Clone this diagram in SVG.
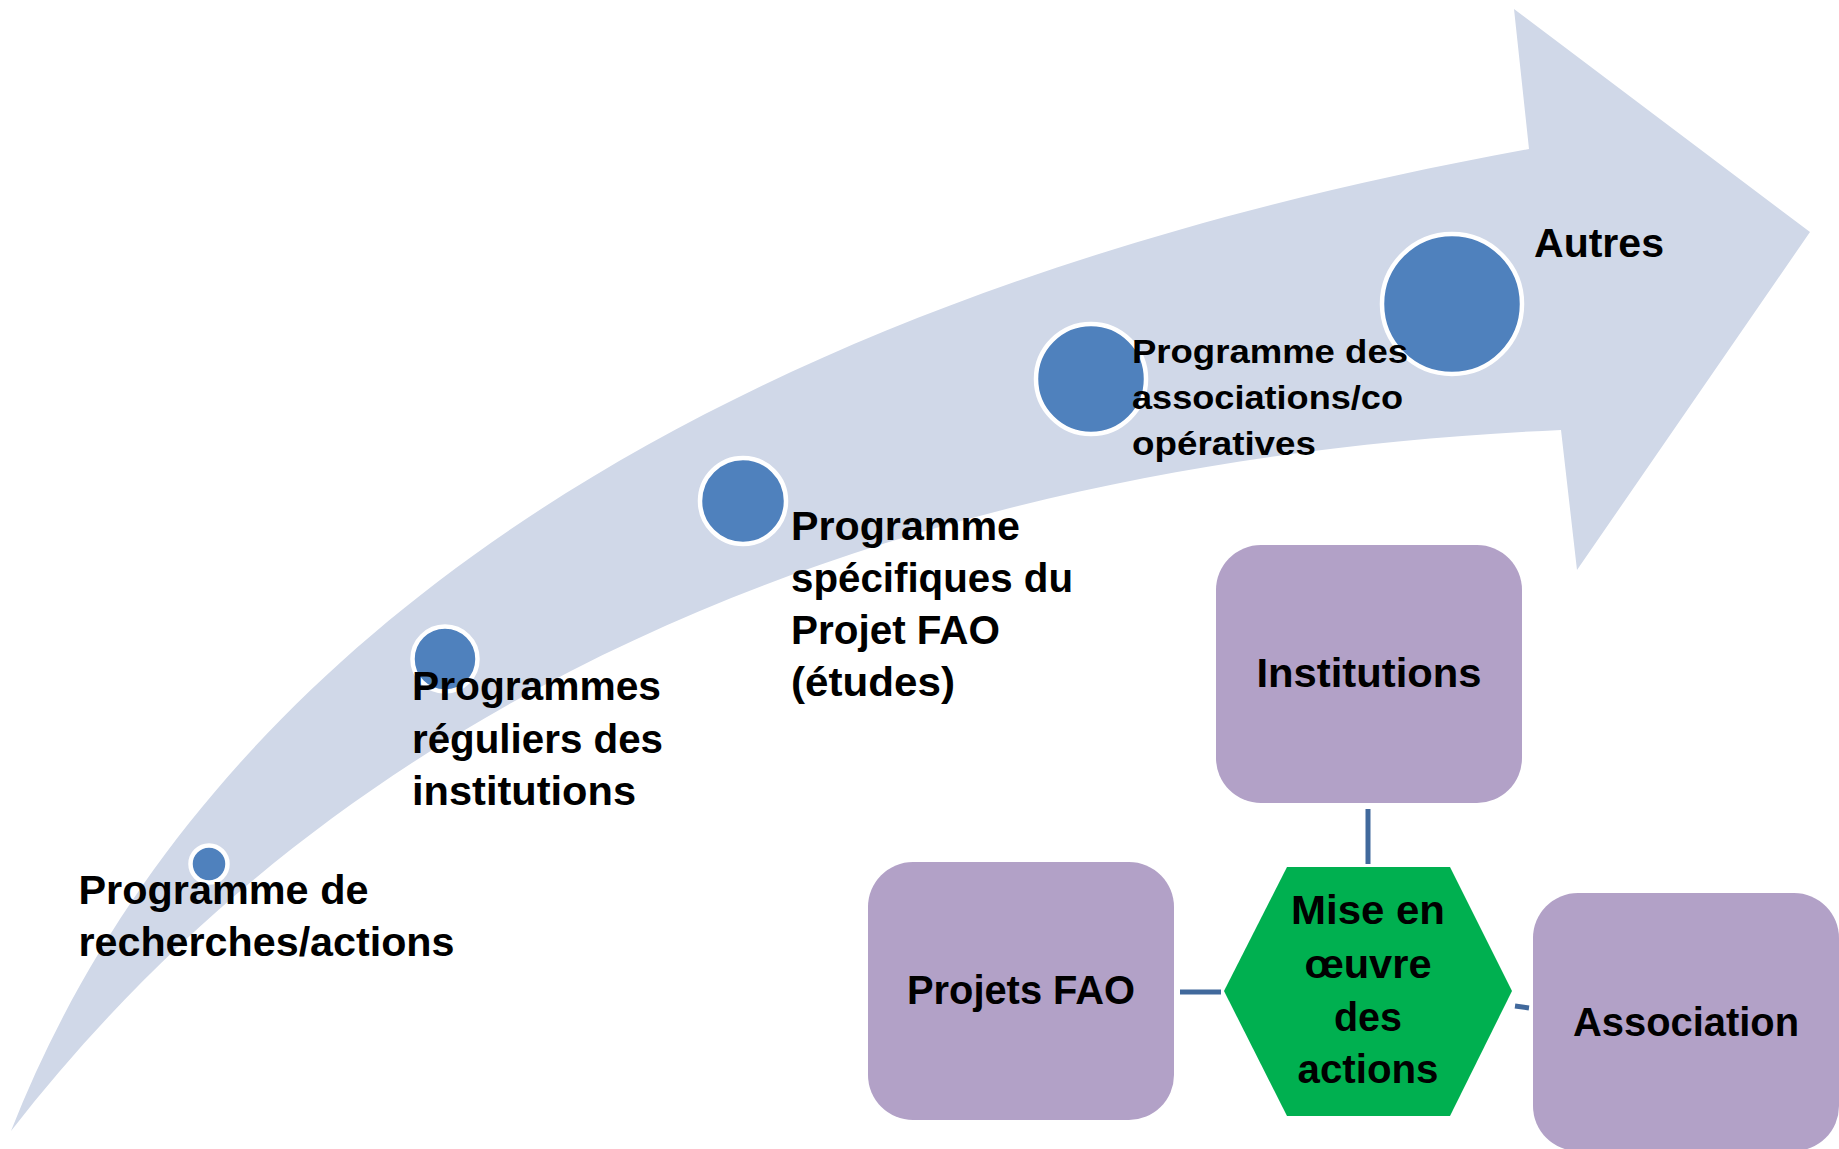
<svg xmlns="http://www.w3.org/2000/svg" width="1839" height="1149" viewBox="0 0 1839 1149">
<style>
.t{font-family:"Liberation Sans",Arial,sans-serif;font-weight:bold;fill:#000;}
.b{font-size:40px;}
.s{font-size:33px;}
.dot{fill:#4F81BD;stroke:#FFFFFF;stroke-width:4.5;}
.box{fill:#B2A1C7;}
.con{stroke:#41699C;stroke-width:5;fill:none;}
</style>
<rect width="1839" height="1149" fill="#FFFFFF"/>
<g id="arrow">
<path d="M11,1131 C200,650 700,300 1529,149 L1514,9 L1810,232 L1577,570 L1561,430 C1000,455 400,630 11,1131 Z" fill="#D0D8E8"/>
</g>
<g id="step1">
<circle class="dot" cx="209" cy="864" r="18.5"/>
<text class="t b" x="78.5" y="904" textLength="290" lengthAdjust="spacingAndGlyphs">Programme de</text>
<text class="t b" x="78.5" y="956" textLength="376" lengthAdjust="spacingAndGlyphs">recherches/actions</text>
</g>
<g id="step2">
<circle class="dot" cx="445" cy="659" r="32.5"/>
<text class="t b" x="412" y="700" textLength="249" lengthAdjust="spacingAndGlyphs">Programmes</text>
<text class="t b" x="412" y="753" textLength="251" lengthAdjust="spacingAndGlyphs">réguliers des</text>
<text class="t b" x="412" y="805" textLength="224" lengthAdjust="spacingAndGlyphs">institutions</text>
</g>
<g id="step3">
<circle class="dot" cx="743" cy="501" r="43"/>
<text class="t b" x="791" y="540" textLength="229" lengthAdjust="spacingAndGlyphs">Programme</text>
<text class="t b" x="791" y="592" textLength="282" lengthAdjust="spacingAndGlyphs">spécifiques du</text>
<text class="t b" x="791" y="644" textLength="209" lengthAdjust="spacingAndGlyphs">Projet FAO</text>
<text class="t b" x="791" y="696" textLength="164" lengthAdjust="spacingAndGlyphs">(études)</text>
</g>
<g id="step4">
<circle class="dot" cx="1091" cy="379" r="55"/>
</g>
<g id="step5">
<circle class="dot" cx="1452" cy="304" r="70"/>
<text class="t b" x="1534" y="257" textLength="130" lengthAdjust="spacingAndGlyphs">Autres</text>
</g>
<g id="step4-label">
<text class="t s" x="1132" y="362.5" textLength="276" lengthAdjust="spacingAndGlyphs">Programme des</text>
<text class="t s" x="1132" y="409" textLength="271" lengthAdjust="spacingAndGlyphs">associations/co</text>
<text class="t s" x="1132" y="455" textLength="184" lengthAdjust="spacingAndGlyphs">opératives</text>
</g>
<g id="connectors">
<line class="con" x1="1368" y1="809" x2="1368" y2="864"/>
<line class="con" x1="1180" y1="992" x2="1221" y2="992"/>
<line class="con" x1="1515" y1="1006" x2="1529" y2="1008"/>
</g>
<g id="institutions">
<rect class="box" x="1216" y="545" width="306" height="258" rx="45" ry="45"/>
<text class="t b" x="1369" y="687" text-anchor="middle" textLength="225" lengthAdjust="spacingAndGlyphs">Institutions</text>
</g>
<g id="projets-fao">
<rect class="box" x="868" y="862" width="306" height="258" rx="45" ry="45"/>
<text class="t b" x="1021" y="1004" text-anchor="middle" textLength="228" lengthAdjust="spacingAndGlyphs">Projets FAO</text>
</g>
<g id="association">
<rect class="box" x="1533" y="893" width="306" height="258" rx="45" ry="45"/>
<text class="t b" x="1686" y="1036" text-anchor="middle" textLength="226" lengthAdjust="spacingAndGlyphs">Association</text>
</g>
<g id="mise-en-oeuvre">
<polygon points="1287,867 1450,867 1512,991 1450,1116 1287,1116 1224,991" fill="#00B050"/>
<text class="t b" x="1368" y="924" text-anchor="middle" textLength="154" lengthAdjust="spacingAndGlyphs">Mise en</text>
<text class="t b" x="1368" y="978" text-anchor="middle" textLength="127" lengthAdjust="spacingAndGlyphs">œuvre</text>
<text class="t b" x="1368" y="1031" text-anchor="middle" textLength="68" lengthAdjust="spacingAndGlyphs">des</text>
<text class="t b" x="1368" y="1083" text-anchor="middle" textLength="141" lengthAdjust="spacingAndGlyphs">actions</text>
</g>
</svg>
